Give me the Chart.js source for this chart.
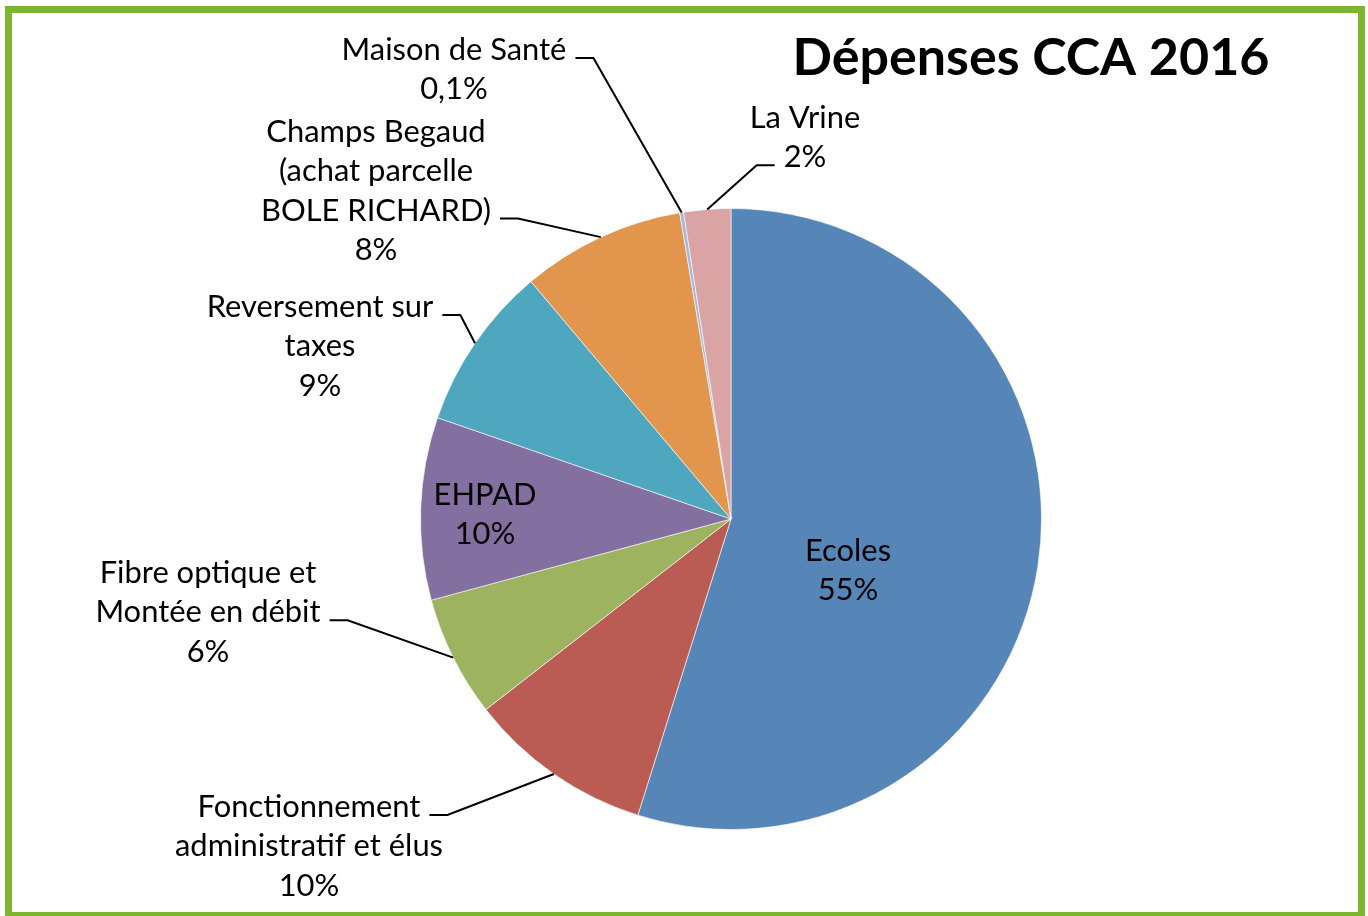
<!DOCTYPE html>
<html>
<head>
<meta charset="utf-8">
<script src="https://cdn.jsdelivr.net/npm/chart.js@4.4.0/dist/chart.umd.min.js"></script>
<style>
  html, body { margin: 0; padding: 0; background: #fff; }
  #wrap { width: 1368px; height: 916px; }
</style>
</head>
<body>
<div id="wrap"><canvas id="myChart" width="1368" height="916"></canvas></div>
<script>
var titre = "Dépenses CCA 2016";
var postes = [
    ["Ecoles"],
    ["Fonctionnement", "administratif et élus"],
    ["Fibre optique et", "Montée en débit"],
    ["EHPAD"],
    ["Reversement sur", "taxes"],
    ["Champs Begaud", "(achat parcelle", "BOLE RICHARD)"],
    ["Maison de Santé"],
    ["La Vrine"]
];
var parts = [54.85, 9.63, 6.31, 9.5, 8.57, 8.5, 0.2, 2.44];
var pourcentages = ["55%", "10%", "6%", "10%", "9%", "8%", "0,1%", "2%"];
var couleurs = ["#5686B8", "#BA5C54", "#9EB35F", "#836FA0", "#4EA7BF", "#E2954D", "#A3B8DC", "#DBA4A4"];

// position du texte de chaque étiquette (centre, 1re ligne de base) et du trait de rappel
var placement = [
    {x: 848, y: 561, trait: null},
    {x: 309, y: 817, trait: {ligne: 0, cote: 1}},
    {x: 208, y: 583, trait: {ligne: 1, cote: 1}},
    {x: 485, y: 505, trait: null},
    {x: 320, y: 317, trait: {ligne: 0, cote: 1}},
    {x: 376, y: 142, trait: {ligne: 2, cote: 1}},
    {x: 454, y: 60, trait: {ligne: 0, cote: 1}},
    {x: 805, y: 128, trait: {ligne: 1, cote: -1}}
];
var interligne = 39.3;

var etiquettes = {
    id: 'etiquettes',
    beforeDraw: function(chart){
        var ctx = chart.ctx;
        ctx.save();
        ctx.strokeStyle = "#7DB52F";
        ctx.lineWidth = 7;
        ctx.strokeRect(8.5, 9.5, 1353, 906);
        ctx.restore();
    },
    afterDraw: function(chart){
        var ctx = chart.ctx;
        ctx.save();
        // taille de police ajustée sur la largeur d'une ligne de l'original
        ctx.font = "28px Lato";
        var taille = 28 * 268 / ctx.measureText("administratif et élus").width;
        ctx.font = taille.toFixed(2) + "px Lato";
        ctx.fillStyle = "#000";
        ctx.strokeStyle = "#000";
        ctx.lineWidth = 2;
        ctx.textAlign = "center";
        ctx.textBaseline = "alphabetic";
        var meta = chart.getDatasetMeta(0);
        meta.data.forEach(function(arc, i){
            var p = placement[i];
            var lignes = postes[i].concat([pourcentages[i]]);
            for(var k = 0; k < lignes.length; k++){
                ctx.fillText(lignes[k], p.x, p.y + k * interligne);
            }
            if(p.trait){
                var w = ctx.measureText(lignes[p.trait.ligne]).width;
                var yb = p.y + p.trait.ligne * interligne - 2;
                var x0 = p.x + p.trait.cote * (w / 2 + 9);
                var x1 = x0 + p.trait.cote * 18;
                var a = arc.getProps(['x', 'y', 'startAngle', 'endAngle', 'outerRadius'], true);
                var milieu = (a.startAngle + a.endAngle) / 2;
                var ex = a.x + Math.cos(milieu) * a.outerRadius;
                var ey = a.y + Math.sin(milieu) * a.outerRadius;
                ctx.beginPath();
                ctx.moveTo(x0, yb);
                ctx.lineTo(x1, yb);
                ctx.lineTo(ex, ey);
                ctx.stroke();
            }
        });
        // titre
        ctx.font = "bold 50px Lato";
        var t = 50 * 477 / ctx.measureText(titre).width;
        ctx.font = "bold " + t.toFixed(2) + "px Lato";
        ctx.textAlign = "left";
        ctx.fillText(titre, 792.5, 75);
        ctx.restore();
    }
};

var ctx = document.getElementById("myChart");
var myChart = new Chart(ctx, {
    type: 'pie',
    data: {
        labels: postes.map(function(p){ return p.join(" "); }),
        datasets: [{
            data: parts,
            backgroundColor: couleurs,
            borderColor: "rgba(255,255,255,0.6)",
            borderWidth: 1,
            hoverOffset: 0
        }]
    },
    options: {
        responsive: false,
        animation: false,
        events: [],
        layout: {
            padding: {left: 420, right: 326, top: 208, bottom: 86}
        },
        plugins: {
            legend: {display: false},
            tooltip: {enabled: false},
            title: {display: false}
        }
    },
    plugins: [etiquettes]
});
</script>
</body>
</html>
